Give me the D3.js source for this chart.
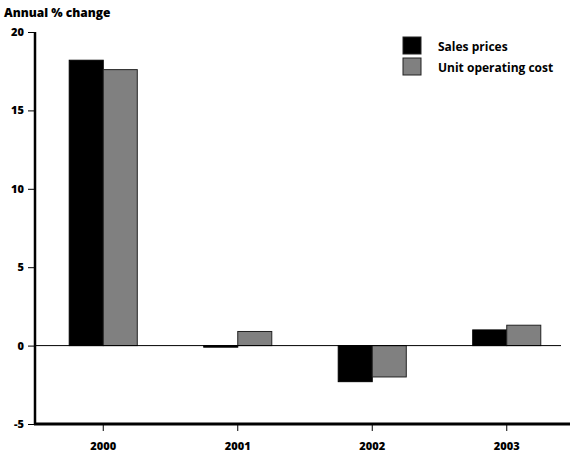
<!DOCTYPE html>
<html><head><meta charset="utf-8">
<script src="https://cdn.jsdelivr.net/npm/d3@7"></script>
<style>body{margin:0;background:#fff}svg{display:block}text{font-family:"Open Sans",sans-serif;font-weight:700;fill:#000}</style>
</head><body>
<script>
const years = ["2000","2001","2002","2003"];
const seriesNames = ["Sales prices","Unit operating cost"];
const salesPrices = [18.2, -0.1, -2.3, 1.0];
const unitOperatingCost = [17.6, 0.9, -2.0, 1.3];
const yTicks = [-5, 0, 5, 10, 15, 20];
const colors = ["#000000", "#808080"];

const W = 570, H = 456;
const svg = d3.select("body").append("svg").attr("width", W).attr("height", H);

const y = d3.scaleLinear().domain([-5, 20]).range([424, 32]);
const x = d3.scaleBand().domain(years).range([36, 574]).paddingInner(0.494).paddingOuter(0.247);
const xs = d3.scaleBand().domain(seriesNames).range([0, x.bandwidth()]);

const data = years.map((yr, i) => ({year: yr, vals: [salesPrices[i], unitOperatingCost[i]]}));

// bars
const g = svg.append("g");
data.forEach(d => {
  d.vals.forEach((v, j) => {
    g.append("rect")
      .attr("x", x(d.year) + xs(seriesNames[j]))
      .attr("y", Math.min(y(v), y(0)))
      .attr("width", xs.bandwidth())
      .attr("height", Math.abs(y(v) - y(0)))
      .attr("fill", colors[j])
      .attr("stroke", j === 0 ? "#000" : "#222")
      .attr("stroke-width", 1);
  });
});

// zero line
svg.append("line").attr("x1", 35).attr("x2", 561).attr("y1", y(0)).attr("y2", y(0))
  .attr("stroke", "#000").attr("stroke-width", 1);

// y axis
const ya = svg.append("g").attr("transform", "translate(35,0)")
  .call(d3.axisLeft(y).tickValues(yTicks).tickSize(7).tickPadding(4).tickFormat(d => String(d)));
ya.select(".domain").remove();
ya.selectAll(".tick line").attr("stroke-width", 1);
ya.selectAll("text").style("font-size", "11px").style("font-family", "'Open Sans',sans-serif").style("font-weight", "800");
svg.append("line").attr("x1", 35).attr("x2", 35).attr("y1", y(20)).attr("y2", y(-5) + 1)
  .attr("stroke", "#000").attr("stroke-width", 2.5);

// x axis
const xa = svg.append("g").attr("transform", `translate(0,${y(-5)})`)
  .call(d3.axisBottom(x).tickSize(7).tickPadding(11));
xa.select(".domain").remove();
xa.selectAll(".tick line").attr("stroke-width", 1);
xa.selectAll("text").style("font-size", "11px").style("font-family", "'Open Sans',sans-serif").style("font-weight", "800");
svg.append("line").attr("x1", 34).attr("x2", 570).attr("y1", y(-5)).attr("y2", y(-5))
  .attr("stroke", "#000").attr("stroke-width", 3);

// title
svg.append("text").attr("x", 4).attr("y", 17).style("font-size", "12px").style("font-weight", "800").text("Annual % change");

// legend
const lg = svg.append("g").attr("transform", "translate(403,37)");
seriesNames.forEach((s, i) => {
  lg.append("rect").attr("x", 0).attr("y", i * 21).attr("width", 18).attr("height", 17)
    .attr("fill", colors[i]).attr("stroke", "#222").attr("stroke-width", 1);
  lg.append("text").attr("x", 35).attr("y", i * 21 + 14).style("font-size", "12px").text(s);
});
</script>
</body></html>
